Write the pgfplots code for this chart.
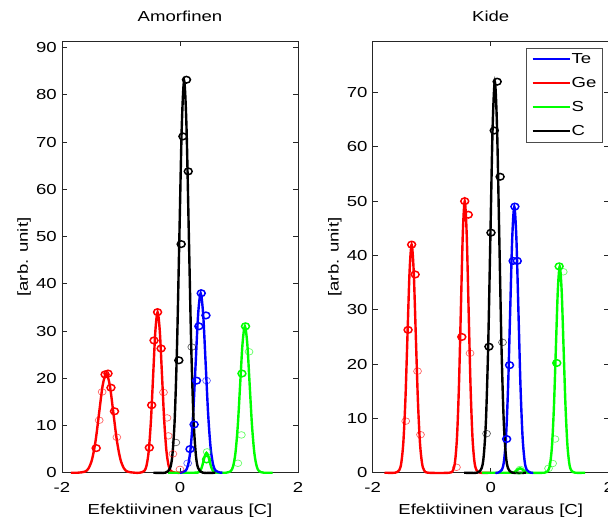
\documentclass[border=0pt]{standalone}
\usepackage{pgfplots}
\pgfplotsset{compat=1.18}
\usepackage{fontspec}
\setmainfont{Liberation Sans}[FakeStretch=1.28]
\newcommand\f{\fontsize{14.5bp}{16bp}\selectfont}
\definecolor{matblue}{RGB}{0,0,255}
\definecolor{matred}{RGB}{255,0,0}
\definecolor{matgreen}{RGB}{0,255,0}
\pgfplotsset{
  mstyle/.style={
    scale only axis, width=236bp, height=431.2bp,
    xmin=-2, xmax=2, ymin=0,
    xtick={-2,0,2},
    tick align=inside, major tick length=5bp,
    axis line style={line width=0.8bp, black!85},
    every tick/.style={line width=0.8bp, black!85},
    /pgf/number format/assume math mode=true,
    ticklabel style={font=\f},
    yticklabel style={anchor=east, inner sep=0pt, xshift=-5bp},
    xticklabel style={anchor=north, inner sep=0pt, yshift=-9bp},
    xlabel={Efektiivinen varaus [C]},
    ylabel={[arb. unit]},
    xlabel style={font=\f, at={([yshift=-42bp]axis description cs:0.5,0)}, anchor=base},
    ylabel style={font=\f, at={([xshift=-34bp]axis description cs:0,0.5)}, anchor=base, rotate=0},
    title style={font=\f, at={([yshift=14bp]axis description cs:0.5,1)}, anchor=base},
    clip=false,
  },
  crv/.style={line width=2.4bp, smooth, no marks},
  mb/.style={only marks, mark=o, mark size=3.3bp, mark options={xscale=1.2, line width=1.5bp}},
  ml/.style={only marks, mark=o, mark size=3.3bp, mark options={xscale=1.2, line width=0.7bp, opacity=0.6}},
}
\begin{document}
\begin{tikzpicture}
% ---------------- Amorfinen ----------------
\begin{axis}[mstyle, at={(0bp,0bp)}, anchor=south west, title={Amorfinen},
  ymax=91.3, ytick={0,10,...,90}]
% Ge (red)
\addplot[crv, matred] coordinates {(-1.85,0) (-1.73,0) (-1.61,0.23) (-1.55,0.92) (-1.49,2.84) (-1.43,6.82) (-1.37,12.74) (-1.31,18.53) (-1.25,21) (-1.19,18.53) (-1.13,12.74) (-1.07,6.82) (-1.01,2.84) (-0.95,0.92) (-0.89,0.23) (-0.77,0)
 (-0.68,0) (-0.605,0.38) (-0.5675,1.49) (-0.53,4.60) (-0.4925,11.04) (-0.455,20.62) (-0.4175,30.01) (-0.38,34) (-0.3425,30.01) (-0.305,20.62) (-0.2675,11.04) (-0.23,4.60) (-0.1925,1.49) (-0.155,0.38) (-0.08,0) (0.1,0)};
% S (green)
\addplot[crv, matgreen] coordinates {(-0.2,0) (0.25,0) (0.30,0.05) (0.325,0.18) (0.35,0.57) (0.375,1.36) (0.40,2.55) (0.425,3.71) (0.45,4.2) (0.475,3.71) (0.50,2.55) (0.525,1.36) (0.55,0.57) (0.575,0.18) (0.60,0.05) (0.65,0)
 (0.78,0) (0.86,0.34) (0.90,1.36) (0.94,4.19) (0.98,10.07) (1.02,18.80) (1.06,27.36) (1.10,31) (1.14,27.36) (1.18,18.80) (1.22,10.07) (1.26,4.19) (1.30,1.36) (1.34,0.34) (1.42,0) (1.57,0)};
% Te (blue)
\addplot[crv, matblue] coordinates {(0.0,0) (0.01,0) (0.095,0.42) (0.1375,1.67) (0.18,5.14) (0.2225,12.34) (0.265,23.05) (0.3075,33.54) (0.35,38) (0.3925,33.54) (0.435,23.05) (0.4775,12.34) (0.52,5.14) (0.5625,1.67) (0.605,0.42) (0.69,0) (0.72,0)};
% C (black)
\addplot[crv, black] coordinates {(-0.45,0) (-0.25,0) (-0.17,0.92) (-0.13,3.64) (-0.09,11.23) (-0.05,26.95) (-0.01,50.34) (0.03,73.25) (0.07,83) (0.11,73.25) (0.15,50.34) (0.19,26.95) (0.23,11.23) (0.27,3.64) (0.31,0.92) (0.39,0) (0.6,0)};
% markers
\addplot[mb, matred] coordinates {(-1.42,5.2) (-1.27,20.8) (-1.22,21) (-1.17,18) (-1.11,13) (-0.52,5.3) (-0.48,14.3) (-0.44,28) (-0.38,34) (-0.32,26.3)};
\addplot[ml, matred] coordinates {(-1.37,11.1) (-1.32,17.1) (-1.07,7.5) (-0.28,17) (-0.22,11.6) (-0.2,7.8) (-0.12,4) (0,0.7)};
\addplot[mb, black] coordinates {(-0.02,23.8) (0.02,48.4) (0.05,71.2) (0.11,83.2) (0.14,63.8)};
\addplot[ml, black] coordinates {(0.2,26.6) (-0.07,6.4)};
\addplot[mb, matblue] coordinates {(0.17,5) (0.24,10.2) (0.28,19.5) (0.32,31) (0.36,38) (0.44,33.3)};
\addplot[ml, matblue] coordinates {(0.13,2) (0.45,19.5)};
\addplot[mb, matgreen] coordinates {(1.05,21) (1.11,31) (0.45,2.8)};
\addplot[ml, matgreen] coordinates {(0.98,2) (1.04,8) (1.17,25.6) (0.46,4.4)};
\end{axis}
% ---------------- Kide ----------------
\begin{axis}[mstyle, at={(310.7bp,0bp)}, anchor=south west, title={Kide},
  ymax=79.4, ytick={0,10,...,70},
  legend style={at={(1,1)}, anchor=north east, xshift=-6bp, yshift=-6.6bp,
    draw=black!70, line width=0.6bp, font=\f, inner xsep=5bp, inner ysep=4bp,
    row sep=10.5bp, nodes={inner xsep=1bp, inner ysep=1bp}},
  legend cell align=left,
  legend image code/.code={\draw[line width=2bp] (0bp,0bp) -- (37bp,0bp);}]
\addlegendimage{draw=matblue, line width=2bp}\addlegendentry{Te}
\addlegendimage{draw=matred, line width=2bp}\addlegendentry{Ge}
\addlegendimage{draw=matgreen, line width=2bp}\addlegendentry{S}
\addlegendimage{draw=black, line width=2bp}\addlegendentry{C}
% Ge (red)
\addplot[crv, matred, forget plot] coordinates {(-1.80,0) (-1.62,0) (-1.55,0.47) (-1.515,1.84) (-1.48,5.68) (-1.445,13.64) (-1.41,25.47) (-1.375,37.07) (-1.34,42) (-1.305,37.07) (-1.27,25.47) (-1.235,13.64) (-1.20,5.68) (-1.165,1.84) (-1.13,0.47) (-1.06,0)
 (-0.70,0) (-0.635,0.56) (-0.6025,2.20) (-0.57,6.77) (-0.5375,16.24) (-0.505,30.33) (-0.4725,44.13) (-0.44,50) (-0.4075,44.13) (-0.375,30.33) (-0.3425,16.24) (-0.31,6.77) (-0.2775,2.20) (-0.245,0.56) (-0.18,0) (0.0,0)};
% S (green)
\addplot[crv, matgreen, forget plot] coordinates {(-0.15,0) (0.35,0) (0.40,0.11) (0.45,0.49) (0.50,0.8) (0.55,0.49) (0.60,0.11) (0.65,0)
 (0.91,0) (0.975,0.42) (1.0075,1.67) (1.04,5.14) (1.0725,12.34) (1.105,23.05) (1.1375,33.54) (1.17,38) (1.2025,33.54) (1.235,23.05) (1.2675,12.34) (1.30,5.14) (1.3325,1.67) (1.365,0.42) (1.43,0) (1.6,0)};
% Te (blue)
\addplot[crv, matblue, forget plot] coordinates {(0.08,0) (0.12,0) (0.19,0.54) (0.225,2.15) (0.26,6.63) (0.295,15.91) (0.33,29.72) (0.365,43.24) (0.40,49) (0.435,43.24) (0.47,29.72) (0.505,15.91) (0.54,6.63) (0.575,2.15) (0.61,0.54) (0.68,0) (0.72,0)};
% C (black)
\addplot[crv, black, forget plot] coordinates {(-0.45,0) (-0.23,0) (-0.155,0.80) (-0.1175,3.16) (-0.08,9.74) (-0.0425,23.38) (-0.005,43.67) (0.0325,63.54) (0.07,72) (0.1075,63.54) (0.145,43.67) (0.1825,23.38) (0.22,9.74) (0.2575,3.16) (0.295,0.80) (0.37,0) (0.6,0)};
% markers
\addplot[mb, matred, forget plot] coordinates {(-1.34,42) (-1.40,26.3) (-1.28,36.5) (-0.44,50) (-0.49,25) (-0.38,47.5)};
\addplot[ml, matred, forget plot] coordinates {(-1.44,9.5) (-1.24,18.7) (-1.19,7) (-0.35,22) (-0.58,1)};
\addplot[mb, black, forget plot] coordinates {(0.11,72) (0.06,63) (0.005,44.2) (0.16,54.5) (-0.03,23.2)};
\addplot[ml, black, forget plot] coordinates {(0.2,24) (-0.07,7.2)};
\addplot[mb, matblue, forget plot] coordinates {(0.41,49) (0.38,39) (0.45,39) (0.32,19.8) (0.27,6.2)};
\addplot[mb, matgreen, forget plot] coordinates {(1.16,38) (1.12,20.2)};
\addplot[ml, matgreen, forget plot] coordinates {(1.23,37) (1.09,6.2) (1.05,1.7) (0.98,0.8) (0.5,0.6) (0.48,0.3)};
\end{axis}
\pgfresetboundingbox
\useasboundingbox (-62bp,-46.3bp) rectangle (546bp,472.7bp);
\end{tikzpicture}
\end{document}
